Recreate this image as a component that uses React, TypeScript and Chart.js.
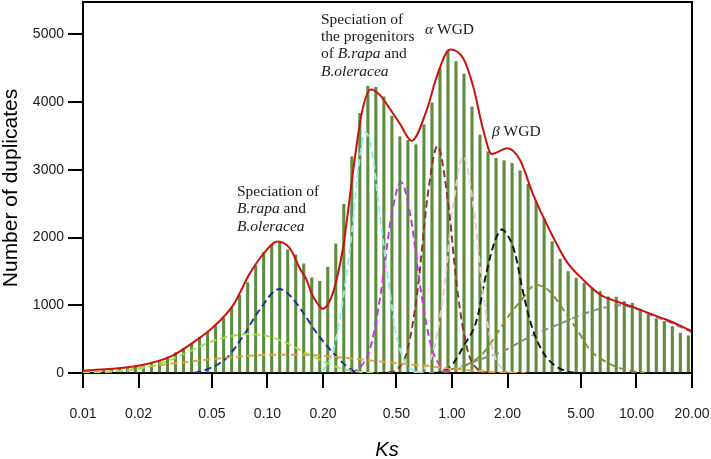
import React, { useEffect, useRef } from 'react';
import { Chart, registerables } from 'chart.js';
Chart.register(...registerables);

// Histogram bins (Ks bin centres) and counts
const binKs = [
  0.01057, 0.01168, 0.01291, 0.01426, 0.01576, 0.01742, 0.01925, 0.02128, 0.02351, 0.02599,
  0.02872, 0.03175, 0.03508, 0.03877, 0.04285, 0.04736, 0.05234, 0.05784, 0.06393, 0.07065,
  0.07808, 0.08629, 0.09537, 0.1054, 0.1165, 0.1287, 0.1423, 0.1572, 0.1738, 0.192,
  0.2122, 0.2346, 0.2592, 0.2865, 0.3166, 0.3499, 0.3867, 0.4274, 0.4724, 0.522,
  0.5769, 0.6376, 0.7047, 0.7788, 0.8607, 0.9512, 1.0513, 1.1618, 1.284, 1.4191,
  1.5683, 1.7333, 1.9155, 2.117, 2.3396, 2.5857, 2.8577, 3.1582, 3.4903, 3.8574,
  4.2631, 4.7115, 5.207, 5.7546, 6.3598, 7.0287, 7.7679, 8.5849, 9.4877, 10.486,
  11.588, 12.807, 14.154, 15.643, 17.288, 19.106,
];
const binCounts = [
  25, 30, 38, 45, 55, 68, 85, 105, 140, 180,
  235, 300, 365, 430, 530, 605, 695, 811, 965, 1145,
  1335, 1583, 1780, 1900, 1925, 1820, 1745, 1612, 1405, 1355,
  1563, 1907, 2492, 3195, 3835, 4237, 4218, 4080, 3795, 3490,
  3436, 3372, 3667, 3991, 4500, 4763, 4600, 4414, 3930, 3515,
  3268, 3171, 3136, 3097, 2988, 2790, 2531, 2280, 1941, 1681,
  1499, 1401, 1327, 1254, 1204, 1125, 1121, 1056, 1032, 944,
  860, 801, 761, 687, 590, 550,
];

// Fitted total (red)
const redKs = [0.01, 0.02, 0.03, 0.04, 0.05, 0.0653, 0.0804, 0.099, 0.113, 0.132, 0.15, 0.163, 0.173, 0.185, 0.1992, 0.212, 0.2273, 0.2575, 0.2917, 0.324, 0.3625, 0.4072, 0.4613, 0.5227, 0.6047, 0.7294, 0.8263, 0.9754, 1.152, 1.305, 1.478, 1.642, 1.994, 2.337, 2.759, 3.398, 4.185, 5.149, 6.342, 7.811, 9.61, 11.84, 14.58, 17.94, 20];
const redVals = [35, 108, 245, 460, 660, 1007, 1475, 1819, 1941, 1844, 1540, 1376, 1180, 1041, 950, 1010, 1200, 1868, 2999, 3835, 4189, 4105, 3900, 3680, 3430, 3884, 4375, 4779, 4646, 4227, 3588, 3234, 3319, 3146, 2630, 2100, 1646, 1376, 1160, 1056, 973, 875, 786, 678, 614];

// Components
const greenKs = [0.01, 0.0145, 0.0187, 0.0283, 0.0395, 0.0528, 0.0707, 0.078, 0.1, 0.1213, 0.169, 0.2265, 0.2575, 0.32, 0.4];
const greenVals = [8, 25, 49, 171, 344, 491, 565, 575, 545, 466, 270, 108, 59, 15, 0];
const orangeKs = [0.01, 0.01515, 0.023, 0.0348, 0.0528, 0.08, 0.121, 0.184, 0.219, 0.33, 0.5, 0.76, 1.14, 1.7, 2.5];
const orangeVals = [10, 24, 98, 157, 211, 255, 270, 262, 245, 196, 147, 97, 49, 12, 0];
const blueKs = [0.04, 0.0466, 0.06, 0.0736, 0.0907, 0.116, 0.13, 0.15, 0.185, 0.227, 0.269, 0.3, 0.33];
const blueVals = [0, 49, 221, 540, 934, 1240, 1165, 960, 590, 295, 97, 15, 0];
const cyanKs = [0.2, 0.227, 0.257, 0.29, 0.31, 0.34, 0.37, 0.4, 0.45, 0.5, 0.56, 0.63, 0.7];
const cyanVals = [30, 330, 1100, 2200, 3000, 3550, 3250, 2500, 1400, 560, 150, 30, 0];
const magentaKs = [0.2835, 0.3212, 0.364, 0.4124, 0.467, 0.529, 0.5995, 0.679, 0.769, 0.8716, 0.9876];
const magentaVals = [10, 92, 412, 1200, 2278, 2820, 2278, 1200, 412, 92, 10];
const brownKs = [0.45, 0.5065, 0.5737, 0.65, 0.7366, 0.8345, 0.9454, 1.071, 1.2134, 1.375, 1.55];
const brownVals = [5, 57, 338, 1207, 2596, 3350, 2596, 1207, 338, 57, 5];
const pinkKs = [0.62, 0.699, 0.7917, 0.897, 1.0163, 1.152, 1.305, 1.478, 1.674, 1.897, 2.15];
const pinkVals = [5, 54, 322, 1152, 2480, 3200, 2480, 1152, 322, 54, 5];
const blackKs = [0.8, 0.897, 1.016, 1.152, 1.361, 1.542, 1.71, 1.866, 2.036, 2.195, 2.435, 2.704, 3.124, 3.541, 4.185, 4.94];
const blackVals = [0, 25, 140, 390, 780, 1500, 1950, 2120, 2000, 1770, 1180, 690, 300, 130, 25, 0];
const oliveKs = [0.9, 1.0605, 1.252, 1.478, 1.82, 2.063, 2.337, 2.853, 3.314, 3.694, 4.185, 4.742, 5.598, 6.342, 7.486, 9.222, 11.12];
const oliveVals = [10, 50, 147, 295, 650, 870, 1050, 1302, 1230, 1080, 860, 650, 340, 220, 110, 30, 5];
const grayKs = [0.75, 0.861, 1.105, 1.418, 1.82, 2.748, 4.2, 5.13, 6.342, 8.14, 10.45, 11.84, 14.58, 17.94, 20];
const grayVals = [0, 20, 90, 200, 300, 560, 770, 870, 950, 1000, 930, 860, 770, 660, 600];

const xTickValues = [0.01, 0.02, 0.05, 0.1, 0.2, 0.5, 1, 2, 5, 10, 20];
const xTickLabels = ['0.01', '0.02', '0.05', '0.10', '0.20', '0.50', '1.00', '2.00', '5.00', '10.00', '20.00'];
const yTickValues = [0, 1000, 2000, 3000, 4000, 5000];

const pts = (xs: number[], ys: number[]) => xs.map((x, i) => ({ x, y: ys[i] }));

const components = [
  { ks: greenKs, vals: greenVals, color: '#9ee050' },
  { ks: orangeKs, vals: orangeVals, color: '#e8a038' },
  { ks: blueKs, vals: blueVals, color: '#1c2aa8' },
  { ks: cyanKs, vals: cyanVals, color: '#90ecec' },
  { ks: magentaKs, vals: magentaVals, color: '#c232e6' },
  { ks: brownKs, vals: brownVals, color: '#8a3232' },
  { ks: pinkKs, vals: pinkVals, color: '#e8cccc' },
  { ks: blackKs, vals: blackVals, color: '#111111' },
  { ks: oliveKs, vals: oliveVals, color: '#8c8c2c' },
  { ks: grayKs, vals: grayVals, color: '#8a8a8a' },
];

const SERIF = '"Liberation Serif", "Times New Roman", serif';
const SANS = '"Liberation Sans", Arial, sans-serif';

type Part = [string, boolean];

function drawRich(ctx: CanvasRenderingContext2D, x: number, y: number, parts: Part[]) {
  let cx = x;
  for (const [t, it] of parts) {
    ctx.font = (it ? 'italic ' : '') + '15.5px ' + SERIF;
    ctx.fillText(t, cx, y);
    cx += ctx.measureText(t).width;
  }
}

const decorPlugin = {
  id: 'decor',
  afterDraw(chart: any) {
    const ctx: CanvasRenderingContext2D = chart.ctx;
    const a = chart.chartArea;
    ctx.save();
    ctx.strokeStyle = '#000';
    ctx.lineWidth = 2;
    ctx.beginPath();
    ctx.moveTo(a.left, a.top);
    ctx.lineTo(a.right, a.top);
    ctx.lineTo(a.right, a.bottom);
    ctx.stroke();

    ctx.fillStyle = '#1a1a1a';
    ctx.textAlign = 'left';
    ctx.textBaseline = 'middle';
    drawRich(ctx, 237, 192, [['Speciation of', false]]);
    drawRich(ctx, 237, 209, [['B.rapa', true], [' and', false]]);
    drawRich(ctx, 237, 227, [['B.oleracea', true]]);

    drawRich(ctx, 321, 20, [['Speciation of', false]]);
    drawRich(ctx, 321, 37, [['the progenitors', false]]);
    drawRich(ctx, 321, 54, [['of ', false], ['B.rapa', true], [' and', false]]);
    drawRich(ctx, 321, 72, [['B.oleracea', true]]);

    drawRich(ctx, 425, 30, [['α', true], [' WGD', false]]);
    drawRich(ctx, 492, 132, [['β', true], [' WGD', false]]);

    ctx.fillStyle = '#000';
    ctx.textAlign = 'center';
    ctx.font = 'italic 20px ' + SANS;
    ctx.fillText('Ks', 387, 450);

    ctx.translate(11, 188);
    ctx.rotate(-Math.PI / 2);
    ctx.font = '21px ' + SANS;
    ctx.fillText('Number of duplicates', 0, 0);
    ctx.restore();
  },
};

export default function App() {
  const ref = useRef<HTMLCanvasElement | null>(null);
  useEffect(() => {
    if (!ref.current) return;
    const datasets: any[] = [
      {
        type: 'bar',
        data: pts(binKs, binCounts),
        backgroundColor: '#5c8c3c',
        barThickness: 2.4,
        order: 3,
      },
      ...components.map((c) => ({
        type: 'line',
        data: pts(c.ks, c.vals),
        borderColor: c.color,
        borderWidth: 1.9,
        borderDash: [7, 4],
        pointRadius: 0,
        cubicInterpolationMode: 'monotone',
        fill: false,
        order: 2,
      })),
      {
        type: 'line',
        data: pts(redKs, redVals),
        borderColor: '#cc1111',
        borderWidth: 2,
        pointRadius: 0,
        cubicInterpolationMode: 'monotone',
        fill: false,
        order: 1,
      },
    ];
    const chart = new Chart(ref.current, {
      type: 'bar',
      data: { datasets },
      options: {
        responsive: false,
        animation: false,
        devicePixelRatio: 1,
        layout: { padding: { left: 0, right: 19, top: 2, bottom: 0 } },
        plugins: { legend: { display: false }, tooltip: { enabled: false } },
        scales: {
          x: {
            type: 'logarithmic',
            min: 0.01,
            max: 20,
            offset: false,
            afterBuildTicks: (s: any) => {
              s.ticks = xTickValues.map((v) => ({ value: v }));
            },
            afterFit: (s: any) => {
              s.height = 86;
              s.paddingLeft = 0;
              s.paddingRight = 0;
            },
            grid: {
              display: true,
              drawOnChartArea: false,
              drawTicks: true,
              tickLength: 15,
              color: '#000',
              lineWidth: 2,
              offset: false,
            },
            border: { display: true, color: '#000', width: 2 },
            ticks: {
              autoSkip: false,
              maxRotation: 0,
              minRotation: 0,
              padding: 18,
              color: '#1a1a1a',
              font: { family: SANS, size: 14 },
              callback: (_v: any, i: number) => xTickLabels[i],
            },
          },
          y: {
            type: 'linear',
            min: 0,
            max: 5480,
            afterBuildTicks: (s: any) => {
              s.ticks = yTickValues.map((v) => ({ value: v }));
            },
            afterFit: (s: any) => {
              s.width = 83;
              s.paddingTop = 0;
              s.paddingBottom = 0;
            },
            grid: {
              display: true,
              drawOnChartArea: false,
              drawTicks: true,
              tickLength: 15,
              color: '#000',
              lineWidth: 2,
            },
            border: { display: true, color: '#000', width: 2 },
            ticks: {
              padding: 4,
              color: '#1a1a1a',
              font: { family: SANS, size: 14 },
              callback: (v: any) => String(v),
            },
          },
        },
      },
      plugins: [decorPlugin],
    } as any);
    return () => chart.destroy();
  }, []);
  return (
    <div style={{ position: 'fixed', left: 0, top: 0, width: 711, height: 459, background: '#fff' }}>
      <canvas ref={ref} width={711} height={459} style={{ display: 'block', width: 711, height: 459 }} />
    </div>
  );
}
